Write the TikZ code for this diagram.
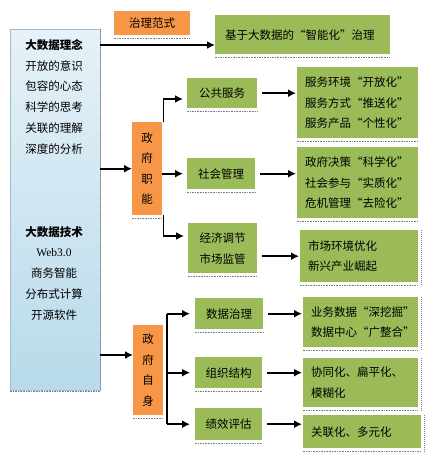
\documentclass[tikz,border=0pt]{standalone}
\usepackage{fontspec}
\setmainfont{Liberation Serif}
\newfontfamily\cn{Noto Sans CJK SC}
\usetikzlibrary{arrows.meta,positioning,calc}
\definecolor{BoxGreen}{RGB}{155,187,89}
\definecolor{BoxOrange}{RGB}{247,150,70}
\definecolor{IdeaTop}{RGB}{230,241,248}
\definecolor{IdeaBottom}{RGB}{184,218,234}
\definecolor{IdeaLine}{RGB}{160,190,205}
\definecolor{HatchGray}{RGB}{125,125,125}

\begin{document}
\begin{tikzpicture}[x=1pt,y=-1pt,>={Latex[length=8pt,width=8pt]},
    font=\cn\fontsize{11.5}{14}\selectfont,
    gbox/.style={fill=BoxGreen,inner sep=0pt,anchor=north west,align=left},
    cbox/.style={gbox,align=center},
    rbox/.style={gbox,inner xsep=8pt,font=\cn\fontsize{11.5}{20.5}\selectfont},
    obox/.style={fill=BoxOrange,inner sep=0pt,anchor=north west,align=center},
    vbox/.style={obox,font=\cn\fontsize{11.5}{20.5}\selectfont},
    link/.style={->,line width=1.6pt},
    hatch/.style={densely dotted,HatchGray,line width=1.6pt}]
  \useasboundingbox (0,0) rectangle (438,463);

  % left column: ideas and techniques
  \node[anchor=north west,minimum width=90pt,minimum height=361pt,inner sep=0pt,
        top color=IdeaTop,bottom color=IdeaBottom,draw=IdeaLine,line width=0.4pt] (ideas) at (10,29) {};
  \draw[hatch,line width=1pt] (ideas.north east) -- (ideas.south east);
  \draw[hatch] ([yshift=-1pt]ideas.south west) -- ([yshift=-1pt]ideas.south east);
  \foreach \i/\txt in {0/{\bfseries 大数据理念},1/开放的意识,2/包容的心态,3/科学的思考,
      4/关联的理解,5/深度的分析,9/{\bfseries 大数据技术},10/{\rmfamily Web3.0},
      11/商务智能,12/分布式计算,13/开源软件}
    \node (l\i) at (54,{45+\i*20.77}) {\txt};

  % orange boxes
  \node[obox,minimum width=76pt,minimum height=24pt] (fs) at (114,11) {治理范式};
  \node[vbox,minimum width=30pt,minimum height=93pt] (zn) at (132,122) {政\\府\\职\\能};
  \node[vbox,minimum width=30pt,minimum height=90pt] (zs) at (133,325) {政\\府\\自\\身};

  % green boxes, middle column
  \node[gbox,inner xsep=10pt,text width=155pt,minimum height=39pt] (g0) at (215,15) {基于大数据的“智能化”治理};
  \node[cbox,text width=70pt,minimum height=30pt] (gg) at (187,78) {公共服务};
  \node[cbox,text width=68pt,minimum height=31pt] (sh) at (187,158) {社会管理};
  \node[cbox,text width=69pt,minimum height=50pt,font=\cn\fontsize{11.5}{21}\selectfont] (jj) at (188,223) {经济调节\\市场监管};
  \node[cbox,text width=68pt,minimum height=31pt] (sj) at (195,298) {数据治理};
  \node[cbox,text width=67pt,minimum height=31pt] (zz) at (195,357) {组织结构};
  \node[cbox,text width=67pt,minimum height=32pt] (jx) at (195,408) {绩效评估};

  % green boxes, right column
  \node[rbox,text width=105pt,minimum height=71pt] (sv) at (297,67) {服务环境“开放化”\\服务方式“推送化”\\服务产品“个性化”};
  \node[rbox,text width=105pt,minimum height=71pt] (sm) at (297,147) {政府决策“科学化”\\社会参与“实质化”\\危机管理“去险化”};
  \node[rbox,text width=102pt,minimum height=52pt] (mk) at (300,230) {市场环境优化\\新兴产业崛起};
  \node[rbox,text width=99pt,minimum height=50pt] (sr) at (303,297) {业务数据“深挖掘”\\数据中心“广整合”};
  \node[rbox,text width=99pt,minimum height=49pt] (xt) at (303,358) {协同化、扁平化、\\模糊化};
  \node[rbox,text width=102pt,minimum height=33pt] (gl) at (303,415) {关联化、多元化};

  % shadows
  \foreach \n in {fs,g0,gg,sh,jj,sj,zz,jx,sv,sm,mk,sr,xt,gl,zn,zs}
    \draw[hatch] ([yshift=-3pt]\n.south west) -- ([yshift=-3pt]\n.south east);
  \foreach \n in {mk,sr,xt,gl}
    \draw[hatch,line width=1pt] ([xshift=3pt]\n.north east) -- ([xshift=3pt,yshift=-3pt]\n.south east);

  % connectors
  \coordinate (ggy) at (0,99);
  \coordinate (jjy) at (0,236);
  \coordinate (zsy) at (0,355);
  \coordinate (br) at (167,0);
  \draw[link] (ideas.east |- l0) -- (l0 -| g0.west);
  \draw[link] (ideas.east |- zn.west) -- (zn.west);
  \draw[link] (ideas.east |- zsy) -- (zs.west |- zsy);
  \draw[link,shorten >=4pt] ([xshift=1pt]zn.north east) |- (gg.west |- ggy);
  \draw[link,shorten >=4pt] (zn.east |- sh.west) -- (sh.west);
  \draw[link,shorten >=4pt] ([xshift=1pt]zn.south east) |- (jj.west |- jjy);
  \draw[line width=1.6pt] (br |- sj.west) -- (br |- jx.west);
  \foreach \n in {sj,zz,jx}
    \draw[link,shorten >=5pt] (br |- \n.west) -- (\n.west);
  \draw[link,shorten <=5pt,shorten >=1pt] (gg.east) -- (gg.east -| sv.west);
  \draw[link,shorten <=5pt,shorten >=1pt] (sh.east) -- (sh.east -| sm.west);
  \draw[link,shorten <=5pt,shorten >=1pt] (jj.east |- mk.west) -- (mk.west);
  \draw[link,shorten <=5pt,shorten >=1pt] (sj.east) -- (sj.east -| sr.west);
  \draw[link,shorten <=5pt,shorten >=1pt] (zz.east) -- (zz.east -| xt.west);
  \draw[link,shorten <=5pt,shorten >=1pt] (jx.east) -- (jx.east -| gl.west);
\end{tikzpicture}
\end{document}
